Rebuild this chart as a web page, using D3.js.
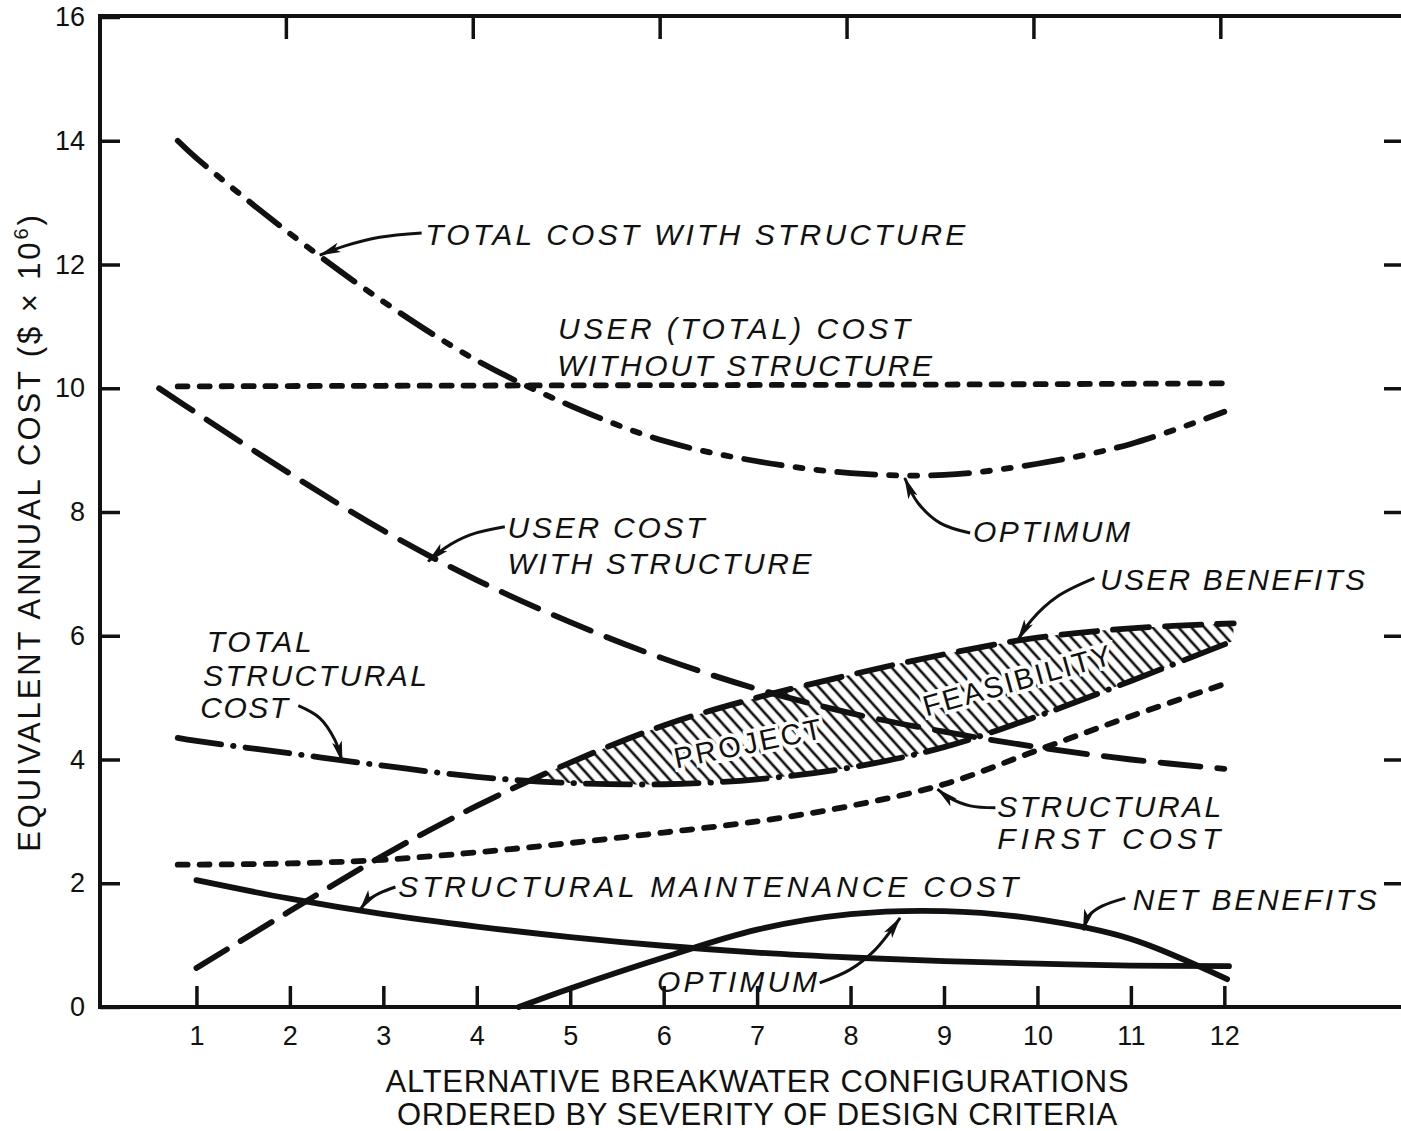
<!DOCTYPE html>
<html>
<head>
<meta charset="utf-8">
<script src="https://cdn.jsdelivr.net/npm/d3@7"></script>
<style>
  html, body { margin: 0; padding: 0; background: #fff; }
  svg { display: block; }
  text { font-family: 'Liberation Sans', Arial, Helvetica, sans-serif; fill: #111; }
  .note { font-style: italic; font-size: 30px; }
  .title { font-size: 31px; }
</style>
</head>
<body>
<svg id="chart" width="1401" height="1131"></svg>
<script>
var xTicks = [1, 2, 3, 4, 5, 6, 7, 8, 9, 10, 11, 12];
var xTopTicks = [2, 4, 6, 8, 10, 12];
var yTicks = [0, 2, 4, 6, 8, 10, 12, 14, 16];
var yRightTicks = [2, 4, 6, 8, 10, 12, 14];

// [configuration, cost in $ x 10^6]
var totalCostWithStructure = [[0.8, 14.0], [1, 13.72], [2, 12.5], [3, 11.4], [4, 10.45], [5, 9.72], [6, 9.15], [7, 8.82], [8, 8.63], [9, 8.6], [10, 8.78], [11, 9.1], [12, 9.62]];
var userCostWithoutStructure = [[0.8, 10.03], [3, 10.04], [6, 10.05], [9, 10.06], [12, 10.08]];
var userCostWithStructure = [[0.6, 10.0], [1, 9.6], [2, 8.62], [3, 7.7], [4, 6.9], [5, 6.22], [6, 5.63], [7, 5.14], [8, 4.75], [9, 4.45], [10, 4.2], [11, 4.0], [12, 3.85]];
var totalStructuralCost = [[0.8, 4.35], [1, 4.3], [2, 4.1], [3, 3.9], [4, 3.72], [5, 3.62], [6, 3.6], [7, 3.68], [8, 3.87], [9, 4.2], [10, 4.7], [11, 5.27], [12.1, 5.92]];
var userBenefits = [[1, 0.63], [2, 1.55], [3, 2.45], [4, 3.25], [5, 3.95], [6, 4.55], [7, 5.0], [8, 5.37], [9, 5.7], [10, 5.97], [11, 6.12], [12.1, 6.2]];
var structuralFirstCost = [[0.8, 2.3], [2, 2.32], [3, 2.38], [4, 2.5], [5, 2.65], [6, 2.82], [7, 3.0], [8, 3.25], [9, 3.6], [10, 4.15], [11, 4.7], [12, 5.22]];
var maintenanceCost = [[1, 2.05], [2, 1.75], [3, 1.5], [4, 1.3], [5, 1.13], [6, 0.99], [7, 0.88], [8, 0.8], [9, 0.74], [10, 0.7], [11, 0.67], [12.05, 0.66]];
var netBenefits = [[4.45, 0], [5, 0.3], [6, 0.8], [7, 1.25], [8, 1.5], [9, 1.55], [10, 1.42], [11, 1.1], [12.03, 0.45]];

(function() {
  var ink = '#111';
  var frameLeft = 100, frameRight = 1401, frameTop = 16, frameBottom = 1007;

  var svg = d3.select('#chart');

  var x = d3.scaleLinear()
    .domain([-0.032, 13.88])
    .range([frameLeft, 1400]);

  var y = d3.scaleLinear()
    .domain([0, 16])
    .range([frameBottom, 17]);

  var line = d3.line()
    .x(function(d) { return x(d[0]); })
    .y(function(d) { return y(d[1]); })
    .curve(d3.curveCatmullRom);

  var defs = svg.append('defs');

  defs.append('marker')
    .attr('id', 'head')
    .attr('viewBox', '0 0 22 12')
    .attr('refX', 21)
    .attr('refY', 6)
    .attr('markerWidth', 22)
    .attr('markerHeight', 12)
    .attr('markerUnits', 'userSpaceOnUse')
    .attr('orient', 'auto')
    .append('path')
    .attr('d', 'M0,1 L22,6 L0,11 L5,6 Z')
    .attr('fill', ink);

  defs.append('pattern')
    .attr('id', 'hatch')
    .attr('patternUnits', 'userSpaceOnUse')
    .attr('width', 9.6)
    .attr('height', 9.6)
    .attr('patternTransform', 'rotate(-42)')
    .append('line')
    .attr('x1', 4.8).attr('y1', -1)
    .attr('x2', 4.8).attr('y2', 11)
    .attr('stroke', ink)
    .attr('stroke-width', 2.6);

  // clip below user benefits and above total structural cost
  function closeTo(data, edge) {
    var a = data[0], b = data[data.length - 1];
    return line(data) + 'L' + x(b[0]) + ',' + edge + 'L' + x(a[0]) + ',' + edge + 'Z';
  }

  defs.append('clipPath').attr('id', 'below-benefits')
    .append('path').attr('d', closeTo(userBenefits, frameBottom));
  defs.append('clipPath').attr('id', 'above-structure')
    .append('path').attr('d', closeTo(totalStructuralCost, frameTop));

  svg.append('g')
    .attr('clip-path', 'url(#below-benefits)')
    .append('rect')
    .attr('clip-path', 'url(#above-structure)')
    .attr('x', frameLeft).attr('y', frameTop)
    .attr('width', frameRight - frameLeft).attr('height', frameBottom - frameTop)
    .attr('fill', 'url(#hatch)');

  // axes, ticks pointing inward
  function styleAxis(g) {
    g.select('.domain').remove();
    g.selectAll('.tick line').attr('stroke', ink).attr('stroke-width', 3.5);
    g.selectAll('.tick text')
      .attr('fill', ink)
      .style('font-family', "'Liberation Sans', Arial, sans-serif")
      .style('font-size', '27px');
  }

  svg.append('g')
    .attr('transform', 'translate(' + frameLeft + ',0)')
    .call(d3.axisLeft(y).tickValues(yTicks).tickSize(-20).tickPadding(15))
    .call(styleAxis);

  svg.append('g')
    .attr('transform', 'translate(0,' + frameBottom + ')')
    .call(d3.axisBottom(x).tickValues(xTicks).tickSize(-21).tickPadding(19))
    .call(styleAxis);

  svg.append('g')
    .attr('transform', 'translate(-4,' + frameTop + ')')
    .call(d3.axisTop(x).tickValues(xTopTicks).tickSize(-23).tickFormat(''))
    .call(styleAxis);

  svg.append('g')
    .attr('transform', 'translate(1401,0)')
    .call(d3.axisRight(y).tickValues(yRightTicks).tickSize(-17).tickFormat(''))
    .call(styleAxis);

  svg.append('path')
    .attr('d', 'M' + frameRight + ',' + frameTop + 'H' + frameLeft + 'V' + frameBottom + 'H' + frameRight)
    .attr('fill', 'none')
    .attr('stroke', ink)
    .attr('stroke-width', 4);

  // curves
  var curves = [
    { data: totalCostWithStructure, dash: '38,14,7,14,7,14' },
    { data: userCostWithoutStructure, dash: '10,12' },
    { data: userCostWithStructure, dash: '40,17' },
    { data: totalStructuralCost, dash: '44,12,0.5,12' },
    { data: userBenefits, dash: '36,16' },
    { data: structuralFirstCost, dash: '10,12' },
    { data: maintenanceCost, dash: null },
    { data: netBenefits, dash: null }
  ];

  svg.selectAll('path.curve')
    .data(curves)
    .enter()
    .append('path')
    .attr('class', 'curve')
    .attr('d', function(d) { return line(d.data); })
    .attr('fill', 'none')
    .attr('stroke', ink)
    .attr('stroke-width', 5.8)
    .attr('stroke-linecap', 'round')
    .attr('stroke-dasharray', function(d) { return d.dash; });

  // labels
  var notes = [
    { text: 'TOTAL COST WITH STRUCTURE', x: 3.45, y: 12.32, len: 540 },
    { text: 'USER (TOTAL) COST', x: 4.87, y: 10.8, len: 352 },
    { text: 'WITHOUT STRUCTURE', x: 4.86, y: 10.19, len: 375 },
    { text: 'OPTIMUM', x: 9.31, y: 7.52, len: 157 },
    { text: 'USER COST', x: 4.33, y: 7.58, len: 197 },
    { text: 'WITH STRUCTURE', x: 4.33, y: 7.0, len: 304 },
    { text: 'USER BENEFITS', x: 10.67, y: 6.74, len: 265 },
    { text: 'TOTAL', x: 1.11, y: 5.74, len: 105 },
    { text: 'STRUCTURAL', x: 1.07, y: 5.19, len: 224 },
    { text: 'COST', x: 1.04, y: 4.67, len: 88 },
    { text: 'STRUCTURAL', x: 9.57, y: 3.07, len: 224 },
    { text: 'FIRST COST', x: 9.57, y: 2.55, len: 223 },
    { text: 'STRUCTURAL MAINTENANCE COST', x: 3.16, y: 1.78, len: 620 },
    { text: 'NET BENEFITS', x: 11.02, y: 1.57, len: 244 },
    { text: 'OPTIMUM', x: 5.93, y: 0.24, len: 160 }
  ];

  svg.selectAll('text.note')
    .data(notes)
    .enter()
    .append('text')
    .attr('class', 'note')
    .attr('x', function(d) { return x(d.x); })
    .attr('y', function(d) { return y(d.y); })
    .attr('textLength', function(d) { return d.len; })
    .attr('lengthAdjust', 'spacing')
    .text(function(d) { return d.text; });

  // hatched region words, knocked out of the hatching
  var regionWords = [
    { text: 'PROJECT', x: 6.92, y: 4.1, angle: -11.7, len: 150 },
    { text: 'FEASIBILITY', x: 9.81, y: 5.12, angle: -15.7, len: 194 }
  ];

  svg.selectAll('text.region')
    .data(regionWords)
    .enter()
    .append('text')
    .attr('class', 'note region')
    .attr('text-anchor', 'middle')
    .attr('transform', function(d) {
      return 'translate(' + x(d.x) + ',' + y(d.y) + ') rotate(' + d.angle + ')';
    })
    .attr('textLength', function(d) { return d.len; })
    .attr('lengthAdjust', 'spacing')
    .attr('stroke', '#fff')
    .attr('stroke-width', 7)
    .attr('paint-order', 'stroke')
    .style('font-style', 'normal')
    .style('font-size', '29px')
    .text(function(d) { return d.text; });

  // leader arrows
  var arrows = [
    [[3.41, 12.51], [2.96, 12.44], [2.59, 12.3], [2.32, 12.15]],
    [[9.28, 7.66], [8.96, 7.82], [8.72, 8.15], [8.58, 8.55]],
    [[4.3, 7.76], [3.93, 7.63], [3.66, 7.42], [3.48, 7.2]],
    [[10.61, 6.93], [10.21, 6.63], [9.94, 6.26], [9.79, 5.93]],
    [[2.09, 4.87], [2.32, 4.67], [2.48, 4.32], [2.56, 3.96]],
    [[9.55, 3.22], [9.28, 3.25], [9.06, 3.38], [8.93, 3.52]],
    [[3.13, 1.94], [2.96, 1.84], [2.84, 1.73], [2.75, 1.57]],
    [[10.94, 1.76], [10.69, 1.63], [10.56, 1.49], [10.49, 1.24]],
    [[7.67, 0.39], [7.99, 0.6], [8.26, 0.92], [8.53, 1.44]]
  ];

  svg.selectAll('path.arrow')
    .data(arrows)
    .enter()
    .append('path')
    .attr('class', 'arrow')
    .attr('d', line)
    .attr('fill', 'none')
    .attr('stroke', ink)
    .attr('stroke-width', 3)
    .attr('marker-end', 'url(#head)');

  // axis titles
  svg.append('text')
    .attr('class', 'title')
    .attr('text-anchor', 'middle')
    .attr('x', x(7))
    .attr('y', 1092)
    .attr('textLength', 743)
    .attr('lengthAdjust', 'spacing')
    .text('ALTERNATIVE BREAKWATER CONFIGURATIONS');

  svg.append('text')
    .attr('class', 'title')
    .attr('text-anchor', 'middle')
    .attr('x', x(7))
    .attr('y', 1125)
    .attr('textLength', 720)
    .attr('lengthAdjust', 'spacing')
    .text('ORDERED BY SEVERITY OF DESIGN CRITERIA');

  var yTitle = svg.append('text')
    .attr('class', 'title')
    .attr('text-anchor', 'middle')
    .style('letter-spacing', '2.9px')
    .attr('transform', 'translate(40,532) rotate(-90)');

  yTitle.append('tspan').text('EQUIVALENT ANNUAL COST ($ \u00d7 10');
  yTitle.append('tspan').attr('dy', -12).style('font-size', '20px').text('6');
  yTitle.append('tspan').attr('dy', 12).text(')');
})();
</script>
</body>
</html>
